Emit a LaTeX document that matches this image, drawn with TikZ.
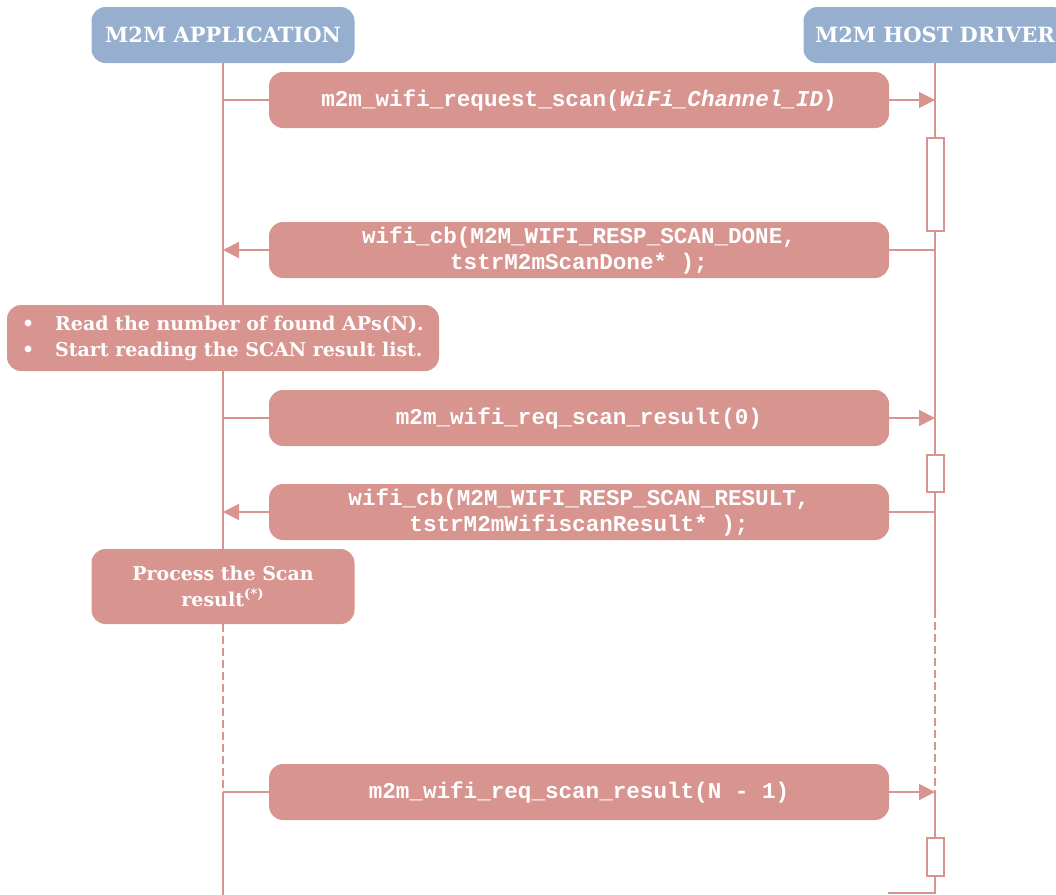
\documentclass[tikz,border=0pt]{standalone}
\usepackage{fontspec}
\setmainfont{DejaVu Serif}
\newfontfamily\codefont{Liberation Mono}
\usetikzlibrary{arrows.meta, positioning}
\definecolor{boxpink}{HTML}{D8948F}
\definecolor{headblue}{HTML}{97AFCE}

\begin{document}
\begin{tikzpicture}[
		x=0.5pt, y=-0.5pt,
		head/.style={rectangle, rounded corners=7pt, fill=headblue, text=white, font=\bfseries\fontsize{10.5}{13}\selectfont, minimum width=131.5pt, minimum height=28pt, inner sep=0pt},
		msg/.style={rectangle, rounded corners=7pt, fill=boxpink, text=white, font=\codefont\bfseries\fontsize{11.3}{13}\selectfont, minimum width=310pt, minimum height=28pt, inner sep=0pt, align=center},
		note/.style={rectangle, rounded corners=7pt, fill=boxpink, text=white, font=\bfseries\fontsize{9.5}{13}\selectfont, inner sep=0pt},
		act/.style={rectangle, draw=boxpink, fill=white, line width=1pt, minimum width=8.5pt, inner sep=0pt},
		life/.style={draw=boxpink, line width=1pt},
		call/.style={life, -{Triangle[length=8pt, width=8pt]}},
		gap/.style={life, dash pattern=on 4pt off 2pt}
		]
		
		\useasboundingbox (0,0) rectangle (1056,895);
		
		% Sudionici
		\node[head] (app) at (223,35) {M2M APPLICATION};
		\node[head] (drv) at (935,35) {M2M HOST DRIVER};
		
		% Poruke
		\node[msg] (m1) at (579,100) {m2m\_wifi\_request\_scan(\textit{WiFi\_Channel\_ID})};
		\node[msg] (m2) at (579,250) {wifi\_cb(M2M\_WIFI\_RESP\_SCAN\_DONE,\\tstrM2mScanDone* );};
		\node[note, minimum width=216pt, minimum height=33pt, align=left] (list) at (223,338) {\makebox[16.5pt][l]{\textbullet}Read the number of found APs(N).\\\makebox[16.5pt][l]{\textbullet}Start reading the SCAN result list.};
		\node[msg] (m3) at (579,418) {m2m\_wifi\_req\_scan\_result(0)};
		\node[msg] (m4) at (579,512) {wifi\_cb(M2M\_WIFI\_RESP\_SCAN\_RESULT,\\tstrM2mWifiscanResult* );};
		\node[note, minimum width=131.5pt, minimum height=37.5pt, align=center] (proc) at (223,586.5) {Process the Scan\\result\textsuperscript{(*)}};
		\node[msg] (m5) at (579,792) {m2m\_wifi\_req\_scan\_result(N - 1)};
		
		% Aktivnost drivera
		\node[act, minimum height=46.5pt] (r1) at (935,184.5) {};
		\node[act, minimum height=18.5pt] (r2) at (935,473.5) {};
		\node[act, minimum height=19pt] (r3) at (935,857) {};
		
		% Tacke na linijama zivota
		\coordinate (a1) at (223,100);
		\coordinate (b1) at (935,100);
		\coordinate (a2) at (223,250);
		\coordinate (b2) at (935,250);
		\coordinate (a3) at (223,418);
		\coordinate (b3) at (935,418);
		\coordinate (a4) at (223,512);
		\coordinate (b4) at (935,512);
		\coordinate (a5) at (223,792);
		\coordinate (b5) at (935,792);
		\coordinate (bd) at (935,610);
		\coordinate (aend) at (223,895);
		\coordinate (bend) at (935,893);
		\coordinate (m6) at (888,893);
		
		% Linije zivota
		\draw[life] (app) -- (list);
		\draw[life] (list) -- (proc);
		\draw[gap] (proc) -- (a5);
		\draw[life] (a5) -- (aend);
		\draw[life] (drv) -- (r1);
		\draw[life] (r1) -- (r2);
		\draw[life] (r2) -- (bd);
		\draw[gap] (bd) -- (b5);
		\draw[life] (b5) -- (r3);
		\draw[life] (r3) -- (bend) -- (m6);
		
		% Strelice
		\draw[life] (a1) -- (m1);
		\draw[call] (m1) -- (b1);
		\draw[life] (b2) -- (m2);
		\draw[call] (m2) -- (a2);
		\draw[life] (a3) -- (m3);
		\draw[call] (m3) -- (b3);
		\draw[life] (b4) -- (m4);
		\draw[call] (m4) -- (a4);
		\draw[life] (a5) -- (m5);
		\draw[call] (m5) -- (b5);
		
	\end{tikzpicture}
\end{document}
